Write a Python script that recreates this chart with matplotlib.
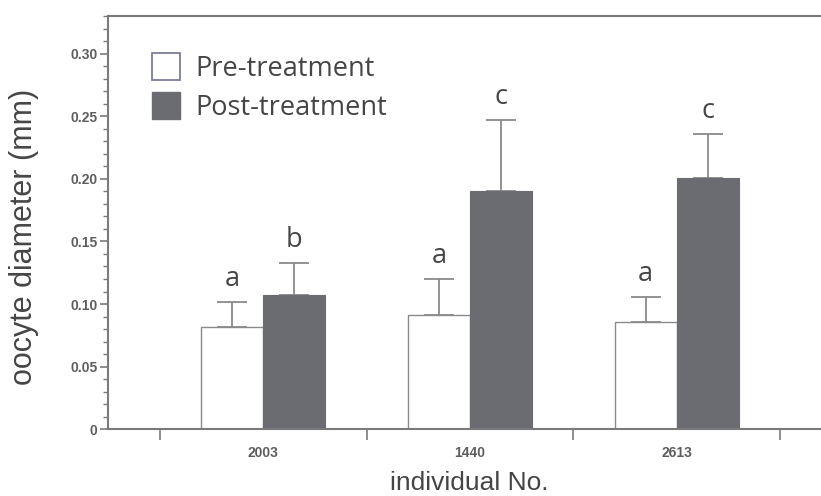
import numpy as np
import matplotlib
matplotlib.use("Agg")
import matplotlib.pyplot as plt
from matplotlib.patches import Patch
from matplotlib.ticker import MultipleLocator, FixedLocator, NullFormatter

# ---- data ----
individuals = ["2003", "1440", "2613"]
pre_mean = [0.082, 0.091, 0.086]
pre_err = [0.020, 0.029, 0.020]
post_mean = [0.107, 0.190, 0.201]
post_err = [0.026, 0.057, 0.035]
pre_letters = ["a", "a", "a"]
post_letters = ["b", "c", "c"]
series_names = ["Pre-treatment", "Post-treatment"]
ytick_vals = [0, 0.05, 0.10, 0.15, 0.20, 0.25, 0.30]
ytick_labels = ["0", "0.05", "0.10", "0.15", "0.20", "0.25", "0.30"]

W, H = 821, 496
fig = plt.figure(figsize=(W / 100, H / 100), dpi=100)
ax = fig.add_axes([108 / W, 1 - 429.3 / H, (832 - 108) / W, (429.3 - 16) / H])

spine_col = "#7a7a7a"
bar_dark = "#6b6c71"
err_col = "#8a8a8a"
text_col = "#454545"
tick_text_col = "#5e5e5e"

x = np.arange(len(individuals))
bw = 0.30
ax.bar(x - bw / 2, pre_mean, width=bw, color="white", edgecolor="#8a8a8a",
       linewidth=1.0, zorder=2)
ax.bar(x + bw / 2, post_mean, width=bw, color=bar_dark, edgecolor=bar_dark,
       linewidth=0.8, zorder=2)

zeros = np.zeros(len(x))
ax.errorbar(x - bw / 2, pre_mean, yerr=[zeros, pre_err], fmt="none",
            ecolor=err_col, elinewidth=1.3, capsize=11, capthick=1.3, zorder=1)
ax.errorbar(x + bw / 2, post_mean, yerr=[zeros, post_err], fmt="none",
            ecolor=err_col, elinewidth=1.3, capsize=11, capthick=1.3, zorder=1)

for i in range(len(x)):
    ax.annotate(pre_letters[i], xy=(x[i] - bw / 2, pre_mean[i] + pre_err[i]),
                xytext=(0, 16), textcoords="offset pixels", ha="center",
                va="baseline", fontsize=19.5, color=text_col, family="Open Sans",
                fontweight=500)
    ax.annotate(post_letters[i], xy=(x[i] + bw / 2, post_mean[i] + post_err[i]),
                xytext=(0, 16), textcoords="offset pixels", ha="center",
                va="baseline", fontsize=19.5, color=text_col, family="Open Sans",
                fontweight=500)

ax.set_xlim(-0.752, 2.752)
ax.set_ylim(0, 0.33)

# y ticks
ax.yaxis.set_major_locator(FixedLocator(ytick_vals))
ax.set_yticklabels(ytick_labels)
ax.yaxis.set_minor_locator(MultipleLocator(0.01))
ax.tick_params(axis="y", which="major", length=6, width=1.2, color=spine_col,
               labelsize=10, labelcolor=tick_text_col, pad=1.5)
ax.tick_params(axis="y", which="minor", length=3.5, width=1.0, color=spine_col)
for lab in ax.get_yticklabels():
    lab.set_family("Liberation Sans")
    lab.set_fontweight("bold")

# x ticks: boundaries as major (no labels), categories as minor (labels)
ax.xaxis.set_major_locator(FixedLocator(np.arange(len(x) + 1) - 0.5))
ax.xaxis.set_major_formatter(NullFormatter())
ax.xaxis.set_minor_locator(FixedLocator(x))
ax.set_xticklabels(individuals, minor=True)
ax.tick_params(axis="x", which="major", length=8, width=1.2, color=spine_col)
ax.tick_params(axis="x", which="minor", length=0, labelsize=10,
               labelcolor=tick_text_col, pad=12)
for lab in ax.get_xticklabels(minor=True):
    lab.set_family("Liberation Sans")
    lab.set_fontweight("bold")

for s in ["left", "bottom", "top"]:
    ax.spines[s].set_color(spine_col)
    ax.spines[s].set_linewidth(1.5)
ax.spines["right"].set_visible(False)

handles = [Patch(facecolor="white", edgecolor="#6f7390", linewidth=1.2),
           Patch(facecolor=bar_dark, edgecolor=bar_dark)]
leg = ax.legend(handles, series_names, loc="upper left",
                bbox_to_anchor=((152 - 108) / 724, (429.3 - 53) / 413.3),
                frameon=False, borderpad=0, borderaxespad=0,
                handlelength=1.05, handleheight=1.15, handletextpad=0.55,
                labelspacing=0.35,
                prop={"family": "Open Sans", "size": 19.5, "weight": 500})
for t in leg.get_texts():
    t.set_color(text_col)

fig.text(469 / W, 1 - 490 / H, "individual No.", ha="center", va="baseline",
         fontsize=19, color=text_col, family="Liberation Sans")
fig.text(24 / W, 1 - 237 / H, "oocyte diameter (mm)", ha="center", va="center",
         rotation=90, fontsize=22, color=text_col, family="Liberation Sans")

fig.savefig("out.png", dpi=100)
